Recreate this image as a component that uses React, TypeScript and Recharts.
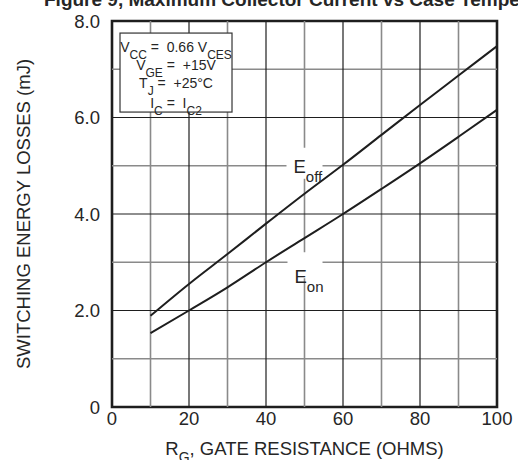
import { LineChart, Line, XAxis, YAxis, ReferenceLine, ReferenceArea, ReferenceDot } from 'recharts';

// gate resistance (ohms)
const rgValues = [10, 20, 30, 40, 50, 60, 70, 80, 90, 100];
// switching energy losses (mJ)
const eoffValues = [1.89, 2.55, 3.17, 3.8, 4.42, 5.02, 5.64, 6.26, 6.87, 7.48];
const eonValues = [1.53, 2.0, 2.48, 3.0, 3.5, 4.0, 4.52, 5.05, 5.6, 6.16];

const xTicks = [0, 20, 40, 60, 80, 100];
const yTicks = [0, 2, 4, 6, 8];
const xMinor = [10, 30, 50, 70, 90];
const xMajor = [20, 40, 60, 80];
const yMinor = [1, 3, 5, 7];
const yMajor = [2, 4, 6];

const data = rgValues.map((rg, i) => ({ rg, eoff: eoffValues[i], eon: eonValues[i] }));

const FONT = '"Liberation Sans", Arial, Helvetica, sans-serif';
const INK = '#262626';

// test conditions box, anchored at its top-left corner
const CondText = ({ cx, cy }: any) => {
    const mx = cx + 56;
    const st = { whiteSpace: 'pre' as const };
    return (
        <g fontFamily={FONT} fill={INK}>
            <rect x={cx} y={cy} width={112} height={79} fill="#fff" stroke="#333" strokeWidth={1.2} />
            <text x={mx} y={cy + 19} textAnchor="middle" fontSize={14} style={st}>
                V<tspan fontSize={12} dy={7}>CC</tspan><tspan dy={-7}> =  0.66 V</tspan><tspan fontSize={12} dy={7}>CES</tspan>
            </text>
            <text x={mx} y={cy + 37} textAnchor="middle" fontSize={14} style={st}>
                V<tspan fontSize={12} dy={7}>GE</tspan><tspan dy={-7}> =  +15V</tspan>
            </text>
            <text x={mx} y={cy + 55} textAnchor="middle" fontSize={14} style={st}>
                T<tspan fontSize={12} dy={7}>J</tspan><tspan dy={-7}> =  +25°C</tspan>
            </text>
            <text x={mx} y={cy + 75} textAnchor="middle" fontSize={14} style={st}>
                I<tspan fontSize={12} dy={7}>C</tspan><tspan dy={-7}> =  I</tspan><tspan fontSize={12} dy={7}>C2</tspan>
            </text>
        </g>
    );
};

const EoffLabel = ({ cx, cy }: any) => (
    <g fontFamily={FONT} fill={INK}>
        <rect x={cx - 18} y={cy - 18} width={36} height={31} fill="#fff" />
        <text x={cx - 11} y={cy + 7} fontSize={18.5}>
            E<tspan fontSize={15} dy={9}>off</tspan>
        </text>
    </g>
);

const EonLabel = ({ cx, cy }: any) => (
    <g fontFamily={FONT} fill={INK}>
        <rect x={cx - 17} y={cy - 10} width={35} height={26} fill="#fff" />
        <text x={cx - 10} y={cy + 21} fontSize={18.5}>
            E<tspan fontSize={15} dy={9}>on</tspan>
        </text>
    </g>
);

const XTitle = ({ viewBox }: any) => (
    <text x={viewBox.x + viewBox.width / 2} y={455} textAnchor="middle" fontSize={18.5} fontFamily={FONT} fill={INK}>
        R<tspan fontSize={14} dy={7}>G</tspan><tspan dy={-7}>, GATE RESISTANCE (OHMS)</tspan>
    </text>
);

const YTitle = () => (
    <text x={23} y={214} transform="rotate(-90 23 214)" textAnchor="middle" dominantBaseline="central" fontSize={18.5} fontFamily={FONT} fill={INK}>
        SWITCHING ENERGY LOSSES (mJ)
    </text>
);

export default function App() {
    return (
        <div style={{ position: 'absolute', left: 0, top: 0, width: 518, height: 460, background: '#fff', overflow: 'hidden' }}>
            <LineChart width={518} height={460} data={data} margin={{ top: 21, right: 21, bottom: 0, left: 0 }}>
                <XAxis
                    dataKey="rg"
                    type="number"
                    domain={[0, 100]}
                    ticks={xTicks}
                    axisLine={false}
                    tickLine={false}
                    tickSize={0}
                    tickMargin={5}
                    height={53}
                    tick={{ fontSize: 18.5, fill: INK, fontFamily: FONT }}
                    label={<XTitle />}
                />
                <YAxis
                    type="number"
                    domain={[0, 8]}
                    ticks={yTicks}
                    width={112}
                    axisLine={false}
                    tickLine={false}
                    tickSize={0}
                    tickMargin={12}
                    tickFormatter={(v: number) => (v === 0 ? '0' : v.toFixed(1))}
                    tick={{ fontSize: 18.5, fill: INK, fontFamily: FONT }}
                    label={<YTitle />}
                />
                {xMinor.map((v) => (
                    <ReferenceLine key={'xm' + v} x={v} stroke="#8a8a8a" strokeWidth={1.6} />
                ))}
                {yMinor.map((v) => (
                    <ReferenceLine key={'ym' + v} y={v} stroke="#8a8a8a" strokeWidth={1.6} />
                ))}
                {xMajor.map((v) => (
                    <ReferenceLine key={'xM' + v} x={v} stroke="#1e1e1e" strokeWidth={1.2} />
                ))}
                {yMajor.map((v) => (
                    <ReferenceLine key={'yM' + v} y={v} stroke="#1e1e1e" strokeWidth={1.2} />
                ))}
                <ReferenceDot x={2.08} y={7.75} shape={<CondText />} />
                <ReferenceDot x={50} y={5} shape={<EoffLabel />} />
                <ReferenceDot x={50} y={3} shape={<EonLabel />} />
                <ReferenceArea x1={0} x2={100} y1={0} y2={8} fill="none" stroke="#1e1e1e" strokeWidth={2.6} />
                <Line type="monotone" dataKey="eoff" stroke="#1e1e1e" strokeWidth={2} dot={false} isAnimationActive={false} />
                <Line type="monotone" dataKey="eon" stroke="#1e1e1e" strokeWidth={2} dot={false} isAnimationActive={false} />
            </LineChart>
            <svg width={518} height={20} style={{ position: 'absolute', left: 0, top: 0, pointerEvents: 'none' }}>
                <text x={44} y={6} fontSize={19} fontWeight="bold" fontFamily={FONT} fill={INK}>
                    Figure 9, Maximum Collector Current vs Case Temperature
                </text>
            </svg>
        </div>
    );
}
